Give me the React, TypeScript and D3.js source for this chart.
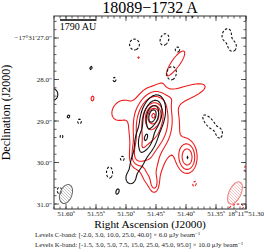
import React from 'react';
import * as d3 from 'd3';

const TITLE = '18089\u22121732 A';
const RA_TICKS = [51.6, 51.55, 51.5, 51.45, 51.4, 51.35, 51.3];
const DEC_TICKS = [27, 28, 29, 30, 31];
const C_LEVELS = [-2, 3, 10, 25, 40];
const K_LEVELS = [-1.5, 3, 5, 7.5, 15, 25, 45, 95];
const C_UNIT = 6.0;
const K_UNIT = 10.0;
const SCALE_AU = 1790;
const DIST_PC = 2060;
// beams: [FWHM major ("), FWHM minor ("), PA deg]
const C_BEAM = [0.48, 0.29, 20];
const K_BEAM = [0.58, 0.29, 25];

// Gaussian components: [ra (s), dec ("), amp (in level units), sigMaj ("), sigMin ("), angle deg]
const C_COMPONENTS: number[][] = [
  [51.4567, 28.855, 48, 0.2, 0.11, 15],
  [51.4683, 29.41, 22, 0.19, 0.11, 15],
  [51.4817, 29.94, 7, 0.24, 0.11, 20],
  [51.4933, 30.373, 4.5, 0.12, 0.1, 0],
  [51.4567, 29.096, 4, 0.48, 0.2, 15],
  [51.3983, 29.867, 3.4, 0.045, 0.03, 0],
  [51.5592, 27.711, 3.5, 0.07, 0.045, 30],
  [51.5967, 28.88, 3.5, 0.07, 0.05, 20],
  [51.6233, 28.349, 4.5, 0.16, 0.14, 0],
  [51.515, 30.687, 3.6, 0.11, 0.06, 20],
  [51.39, 26.47, 3.3, 0.05, 0.04, 0],
  [51.4867, 27.145, -3, 0.145, 0.13, 0],
  [51.4367, 27.024, -3, 0.16, 0.11, 20],
  [51.3333, 26.904, -3, 0.16, 0.11, 20],
  [51.3233, 27.193, -3, 0.13, 0.1, 0],
  [51.52, 27.988, -2.6, 0.07, 0.05, 0],
  [51.425, 27.843, -3, 0.19, 0.13, 10],
  [51.415, 27.265, -2.6, 0.08, 0.07, 0],
  [51.5783, 29.0, -2.6, 0.08, 0.06, 0],
  [51.6083, 29.361, -2.5, 0.06, 0.05, 0],
  [51.3617, 29.024, -3, 0.25, 0.1, -40],
  [51.345, 29.289, -2.6, 0.1, 0.06, 0],
  [51.5067, 29.892, -2.6, 0.08, 0.07, 0],
  [51.5283, 30.229, -3, 0.15, 0.08, 0],
  [51.6117, 30.663, -2.7, 0.1, 0.07, 0],
];

const K_COMPONENTS: number[][] = [
  [51.455, 28.855, 80, 0.12, 0.085, 10],
  [51.4583, 29.024, 20, 0.34, 0.19, 10],
  [51.4517, 29.096, 6, 0.72, 0.48, 0],
  [51.39, 28.253, 4, 0.39, 0.145, 70],
  [51.5133, 28.735, 3.5, 0.24, 0.17, 30],
  [51.46, 30.133, 4, 0.36, 0.17, 0],
  [51.4533, 30.518, 3.5, 0.145, 0.072, 0],
  [51.4767, 29.699, 8, 0.24, 0.12, 20],
  [51.415, 27.53, 4, 0.34, 0.11, 35],
  [51.3983, 29.867, 9, 0.24, 0.145, 0],
  [51.5567, 28.446, 3.5, 0.1, 0.06, 10],
  [51.48, 27.458, 3.2, 0.03, 0.03, 0],
  [51.4583, 27.843, -2.2, 0.14, 0.085, 10],
  [51.3867, 30.494, -2.2, 0.1, 0.06, 20],
  [51.3167, 31.072, -2.4, 0.18, 0.08, 80],
  [51.3, 30.133, -2.2, 0.1, 0.05, 0],
];

const W = 264, H = 252;
const L = 54, R = 246, T = 16, B = 209;
const FONT = '"Liberation Serif", "DejaVu Serif", serif';
const ARCSEC_PER_S = 14.3;

const x = d3.scaleLinear().domain([51.62, 51.3]).range([L, R]);
const y = d3.scaleLinear().domain([26.47, 31.12]).range([T, B]);

function evalField(comps: number[][], ra: number, dec: number) {
  let s = 0;
  for (const [rc, dc, a, sM, sm, ang] of comps) {
    const u = (rc - ra) * ARCSEC_PER_S;
    const v = dec - dc;
    const th = (ang * Math.PI) / 180;
    const p = u * Math.sin(th) - v * Math.cos(th);
    const q = u * Math.cos(th) + v * Math.sin(th);
    s += a * Math.exp(-0.5 * ((p * p) / (sM * sM) + (q * q) / (sm * sm)));
  }
  return s;
}

const GX0 = L - 12, GY0 = T - 12, GW = R - L + 24, GH = B - T + 24;

function buildContours(comps: number[][], levels: number[]) {
  const vals = new Float64Array(GW * GH);
  for (let j = 0; j < GH; j++) {
    for (let i = 0; i < GW; i++) {
      vals[j * GW + i] = evalField(comps, x.invert(GX0 + i), y.invert(GY0 + j));
    }
  }
  const neg = Array.from(vals, (v) => -v);
  const pos = Array.from(vals);
  const path = d3.geoPath();
  return levels.map((lev) => {
    const arr = lev < 0 ? neg : pos;
    const t = Math.abs(lev);
    const c = d3.contours().size([GW, GH]).thresholds([t])(arr as number[]);
    return { lev, d: c.map((m) => path(m as any) || '').join(' ') };
  });
}

function fmt(v: number) {
  return v.toFixed(1);
}

export default function App() {
  const kC = buildContours(K_COMPONENTS, K_LEVELS);
  const cC = buildContours(C_COMPONENTS, C_LEVELS);
  const raMinor = d3.range(51.3, 51.62, 0.01);
  const decMinor = d3.range(26.6, 31.12, 0.2);
  const pxPerArc = Math.abs(y(28) - y(27));
  const barLen = (SCALE_AU / DIST_PC) * pxPerArc;

  const beam = (b: number[], cx: number, cy: number, stroke: string, hatch: string, id: string) => {
    const rx = (b[1] / 2) * pxPerArc;
    const ry = (b[0] / 2) * pxPerArc;
    return (
      <g transform={`translate(${cx},${cy}) rotate(${b[2]})`}>
        <clipPath id={id}>
          <ellipse rx={rx} ry={ry} />
        </clipPath>
        <g clipPath={`url(#${id})`}>
          {d3.range(-30, 30, 3).map((k) => (
            <line key={k} x1={k - 20} y1={-20} x2={k + 20} y2={20} stroke={hatch} strokeWidth={0.7} transform={`rotate(${-b[2]})`} />
          ))}
        </g>
        <ellipse rx={rx} ry={ry} fill="none" stroke={stroke} strokeWidth={1} />
      </g>
    );
  };

  return (
    <svg width={W} height={H} style={{ position: 'absolute', left: 0, top: 0, background: '#fff' }} fontFamily={FONT}>
      <defs>
        <clipPath id="plot">
          <rect x={L} y={T} width={R - L} height={B - T} />
        </clipPath>
      </defs>
      <rect width={W} height={H} fill="#fff" />
      <text x={(L + R) / 2} y={13} textAnchor="middle" fontSize={16}>{TITLE}</text>
      <g clipPath="url(#plot)">
        <g transform={`translate(${GX0},${GY0})`}>
          {kC.map((c, i) => (
            <path key={'k' + i} d={c.d} fill="none" stroke="#ee1c1c" strokeWidth={1.1} strokeDasharray={c.lev < 0 ? '2.5,1.8' : undefined} />
          ))}
          {cC.map((c, i) => (
            <path key={'c' + i} d={c.d} fill="none" stroke="#111" strokeWidth={1.1} strokeDasharray={c.lev < 0 ? '2.5,1.8' : undefined} />
          ))}
        </g>
        {beam(C_BEAM, 66, 194, '#666', '#aaa', 'cb')}
        {beam(K_BEAM, 235, 193, '#f08080', '#f4a8a8', 'kb')}
      </g>
      {/* scale bar */}
      <line x1={x(51.61)} x2={x(51.61) + barLen} y1={20} y2={20} stroke="#000" strokeWidth={1.5} />
      <text x={x(51.61) + barLen / 2} y={30} textAnchor="middle" fontSize={10}>{SCALE_AU} AU</text>
      {/* frame */}
      <rect x={L} y={T} width={R - L} height={B - T} fill="none" stroke="#333" strokeWidth={1} />
      {/* ticks */}
      <g stroke="#333" strokeWidth={0.8}>
        {raMinor.map((v, i) => (
          <g key={'rm' + i}>
            <line x1={x(v)} x2={x(v)} y1={B} y2={B - 2.5} />
            <line x1={x(v)} x2={x(v)} y1={T} y2={T + 2.5} />
          </g>
        ))}
        {RA_TICKS.map((v, i) => (
          <g key={'rM' + i}>
            <line x1={x(v)} x2={x(v)} y1={B} y2={B - 5} />
            <line x1={x(v)} x2={x(v)} y1={T} y2={T + 5} />
          </g>
        ))}
        {decMinor.map((v, i) => (
          <g key={'dm' + i}>
            <line x1={L} x2={L + 2.5} y1={y(v)} y2={y(v)} />
            <line x1={R} x2={R - 2.5} y1={y(v)} y2={y(v)} />
          </g>
        ))}
        {DEC_TICKS.map((v, i) => (
          <g key={'dM' + i}>
            <line x1={L} x2={L + 5} y1={y(v)} y2={y(v)} />
            <line x1={R} x2={R - 5} y1={y(v)} y2={y(v)} />
          </g>
        ))}
      </g>
      {/* tick labels */}
      <g fontSize={7} fill="#222">
        {RA_TICKS.map((v, i) => {
          const s = v.toFixed(2);
          const last = i === RA_TICKS.length - 1;
          return (
            <text key={'rl' + i} x={x(v)} y={215.5} textAnchor="middle">
              {last ? (
                <>
                  18<tspan dy={-2.5} fontSize={5}>h</tspan>
                  <tspan dy={2.5}>11</tspan>
                  <tspan dy={-2.5} fontSize={5}>m</tspan>
                  <tspan dy={2.5}>{s}</tspan>
                </>
              ) : (
                <>
                  {s}
                  <tspan dy={-2.5} fontSize={5}>s</tspan>
                </>
              )}
            </text>
          );
        })}
        {DEC_TICKS.map((v, i) => (
          <text key={'dl' + i} x={52} y={y(v) + 2.5} textAnchor="end">
            {i === 0 ? `\u221217\u00b031\u2032${v.toFixed(1)}\u2033` : `${v.toFixed(1)}\u2033`}
          </text>
        ))}
      </g>
      <text x={(L + R) / 2} y={228} textAnchor="middle" fontSize={11.3}>Right Ascension (J2000)</text>
      <text transform={`translate(10,${(T + B) / 2}) rotate(-90)`} textAnchor="middle" fontSize={12}>Declination (J2000)</text>
      <g fontSize={6.8} fill="#222">
        <text x={35} y={237}>
          Levels C-band: [{C_LEVELS.map(fmt).join(', ')}] × {C_UNIT.toFixed(1)} μJy beam
          <tspan dy={-2.5} fontSize={5}>−1</tspan>
        </text>
        <text x={35} y={247}>
          Levels K-band: [{K_LEVELS.map(fmt).join(', ')}] × {K_UNIT.toFixed(1)} μJy beam
          <tspan dy={-2.5} fontSize={5}>−1</tspan>
        </text>
      </g>
    </svg>
  );
}
